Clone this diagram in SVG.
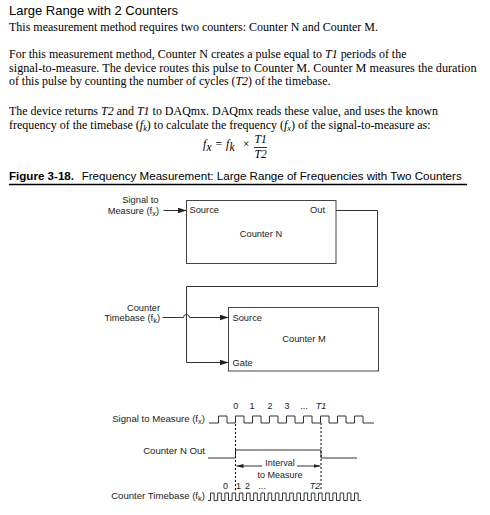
<svg xmlns="http://www.w3.org/2000/svg" width="490" height="515" viewBox="0 0 490 515">
<style>
.title{font-family:"Liberation Sans",Arial,sans-serif;font-size:13px;fill:#000}
.body{font-family:"Liberation Serif","Times New Roman",serif;font-size:11.5px;fill:#000}
.it{font-style:italic}
.cap{font-family:"Liberation Sans",Arial,sans-serif;font-size:11.5px;fill:#000}
.lbl{font-family:"Liberation Sans",Arial,sans-serif;font-size:9.3px;fill:#222}
.tl{font-family:"Liberation Sans",Arial,sans-serif;font-size:9.6px;fill:#222}
.num{font-family:"Liberation Sans",Arial,sans-serif;font-size:9px;fill:#222}
.box{fill:#fff;stroke:#444;stroke-width:1}
.wire{fill:none;stroke:#333;stroke-width:1}
.wave{fill:none;stroke:#333;stroke-width:1}
.dash{fill:none;stroke:#000;stroke-width:1;stroke-dasharray:2,2}
</style>
<defs>
<marker id="ah" viewBox="0 0 9 6" refX="9" refY="3" markerWidth="9" markerHeight="6" markerUnits="userSpaceOnUse" orient="auto">
<path d="M0,0 L9,3 L0,6 z" fill="#222"/>
</marker>
<marker id="ahs" viewBox="0 0 7 4" refX="7" refY="2" markerWidth="7" markerHeight="4" markerUnits="userSpaceOnUse" orient="auto">
<path d="M0,0 L7,2 L0,4 z" fill="#222"/>
</marker>
</defs>
<rect width="490" height="515" fill="#fff"/>

<g id="text-block">
<text class="title" x="9" y="15">Large Range with 2 Counters</text>
<text class="body" x="9" y="31" textLength="369" lengthAdjust="spacingAndGlyphs">This measurement method requires two counters: Counter N and Counter M.</text>
<text class="body" x="9" y="58" textLength="397.5" lengthAdjust="spacingAndGlyphs">For this measurement method, Counter N creates a pulse equal to <tspan class="it">T1</tspan> periods of the</text>
<text class="body" x="9" y="71.5" textLength="467.5" lengthAdjust="spacingAndGlyphs">signal-to-measure. The device routes this pulse to Counter M. Counter M measures the duration</text>
<text class="body" x="9" y="85" textLength="321.5" lengthAdjust="spacingAndGlyphs">of this pulse by counting the number of cycles (<tspan class="it">T2</tspan>) of the timebase.</text>
<text class="body" x="9" y="114.5" textLength="429" lengthAdjust="spacingAndGlyphs">The device returns <tspan class="it">T2</tspan> and <tspan class="it">T1</tspan> to DAQmx. DAQmx reads these value, and uses the known</text>
<text class="body" x="9" y="128.8" textLength="421.5" lengthAdjust="spacingAndGlyphs">frequency of the timebase (<tspan class="it">f</tspan><tspan class="it" font-size="8" dy="2">k</tspan><tspan dy="-2">) to calculate the frequency (</tspan><tspan class="it">f</tspan><tspan class="it" font-size="8" dy="2">x</tspan><tspan dy="-2">) of the signal-to-measure as:</tspan></text>
</g>

<g id="formula">
<text class="body it" x="203" y="148">f</text>
<text class="body it" x="206.5" y="150.5" font-size="8">x</text>
<text class="body" x="215.5" y="148">=</text>
<text class="body it" x="226" y="148">f</text>
<text class="body it" x="229.5" y="150.5" font-size="8">k</text>
<text class="body" x="243" y="148">×</text>
<text class="body it" x="254.5" y="143.3">T1</text>
<line x1="254" y1="147.5" x2="267" y2="147.5" stroke="#000" stroke-width="0.8"/>
<text class="body it" x="254.5" y="158.3">T2</text>
</g>

<g id="caption">
<text class="cap" x="9" y="180" font-weight="bold" textLength="65" lengthAdjust="spacingAndGlyphs">Figure 3-18.</text>
<text class="cap" x="81.7" y="180" textLength="380" lengthAdjust="spacingAndGlyphs">Frequency Measurement: Large Range of Frequencies with Two Counters</text>
<line x1="9" y1="184.5" x2="467" y2="184.5" stroke="#000" stroke-width="1.5"/>
</g>

<g id="counterN">
<rect class="box" x="186.5" y="200.5" width="149.5" height="63"/>
<text class="lbl" x="189.5" y="213">Source</text>
<text class="lbl" x="310" y="213">Out</text>
<text class="lbl" x="261" y="236.5" text-anchor="middle">Counter N</text>
</g>

<g id="counterM">
<rect class="box" x="228.5" y="307.5" width="150" height="63.5"/>
<text class="lbl" x="232.5" y="320.5">Source</text>
<text class="lbl" x="232.5" y="366">Gate</text>
<text class="lbl" x="304" y="342" text-anchor="middle">Counter M</text>
</g>

<g id="input-labels">
<text class="lbl" x="158.5" y="202.5" text-anchor="end">Signal to</text>
<text class="lbl" x="159" y="213.5" text-anchor="end">Measure (f<tspan font-size="7.5" dy="2">x</tspan><tspan dy="-2">)</tspan></text>
<text class="lbl" x="160" y="310.5" text-anchor="end">Counter</text>
<text class="lbl" x="160" y="321" text-anchor="end">Timebase (f<tspan font-size="7.5" dy="2">k</tspan><tspan dy="-2">)</tspan></text>
</g>

<g id="connectors">
<line class="wire" x1="163.5" y1="210.5" x2="186.5" y2="210.5" marker-end="url(#ah)"/>
<path class="wire" d="M336,210.5 H377.5 V286.5 H186.5 V362.5 H228.5" marker-end="url(#ah)"/>
<path class="wire" d="M162.5,317.5 H183.5 A3,3 0 0 1 189.5,317.5 H228.5" marker-end="url(#ah)"/>
</g>

<g id="timing">
<text class="tl" x="205" y="422" text-anchor="end">Signal to Measure (f<tspan font-size="7.5" dy="2">x</tspan><tspan dy="-2">)</tspan></text>
<text class="tl" x="205" y="453.5" text-anchor="end">Counter N Out</text>
<text class="tl" x="205" y="499" text-anchor="end">Counter Timebase (f<tspan font-size="7.5" dy="2">k</tspan><tspan dy="-2">)</tspan></text>

<text class="num" x="235.7" y="409" text-anchor="middle">0</text>
<text class="num" x="252" y="409" text-anchor="middle">1</text>
<text class="num" x="270" y="409" text-anchor="middle">2</text>
<text class="num" x="287" y="409" text-anchor="middle">3</text>
<text class="num" x="304" y="409" text-anchor="middle">...</text>
<text class="num it" x="321" y="409" text-anchor="middle">T1</text>

<path class="wave" d="M209,423 h9.5 v-7 h8.5 v7 h8.5 v-7 h8.5 v7 h8.5 v-7 h8.5 v7 h8.5 v-7 h8.5 v7 h8.5 v-7 h8.5 v7 h8.5 v-7 h8.5 v7 h8.5 v-7 h8.5 v7 h8.5 v-7 h8.5 v7 h8.5 v-7 h8.5 v7 h11"/>

<path class="wave" d="M208,458 H235.5 V450 H321 V458 H357"/>

<line class="dash" x1="235.5" y1="424" x2="235.5" y2="491"/>
<line class="dash" x1="321" y1="423" x2="321" y2="491"/>

<line class="wire" x1="262" y1="466" x2="236.5" y2="466" marker-end="url(#ahs)"/>
<line class="wire" x1="297" y1="466" x2="320.5" y2="466" marker-end="url(#ahs)"/>
<text class="num" x="280" y="466" text-anchor="middle">Interval</text>
<text class="num" x="280" y="477.5" text-anchor="middle">to Measure</text>

<text class="num" x="225.5" y="489" text-anchor="middle">0</text>
<text class="num" x="238.5" y="489" text-anchor="middle">1</text>
<text class="num" x="247.5" y="489" text-anchor="middle">2</text>
<text class="num" x="262" y="489" text-anchor="middle">...</text>
<text class="num it" x="315" y="489" text-anchor="middle">T2</text>

<path class="wave" d="M208,500.5 h2.5 v-7.5 h3.6 v7.5 h3.6 v-7.5 h3.6 v7.5 h3.6 v-7.5 h3.6 v7.5 h3.6 v-7.5 h3.6 v7.5 h3.6 v-7.5 h3.6 v7.5 h3.6 v-7.5 h3.6 v7.5 h3.6 v-7.5 h3.6 v7.5 h3.6 v-7.5 h3.6 v7.5 h3.6 v-7.5 h3.6 v7.5 h3.6 v-7.5 h3.6 v7.5 h3.6 v-7.5 h3.6 v7.5 h3.6 v-7.5 h3.6 v7.5 h3.6 v-7.5 h3.6 v7.5 h3.6 v-7.5 h3.6 v7.5 h3.6 v-7.5 h3.6 v7.5 h3.6 v-7.5 h3.6 v7.5 h3.6 v-7.5 h3.6 v7.5 h3.6 v-7.5 h3.6 v7.5 h3.6 v-7.5 h3.6 v7.5 h3.6 v-7.5 h3.6 v7.5 h3.6 v-7.5 h3.6 v7.5 h3"/>
</g>
</svg>
